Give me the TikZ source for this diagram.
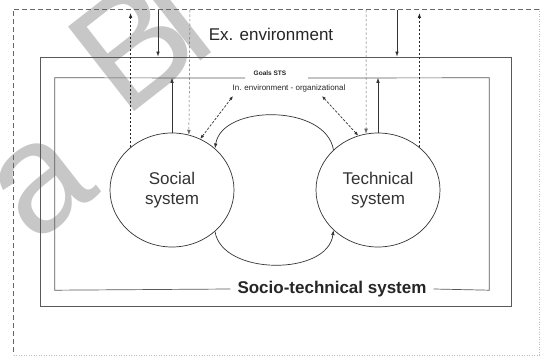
\documentclass[tikz,border=0pt]{standalone}
\usepackage{fontspec}
\setmainfont{Liberation Sans}
\usetikzlibrary{shapes.geometric,arrows.meta}
\begin{document}
\begin{tikzpicture}[x=1pt,y=-1pt,
  frame/.style={draw=black!65, line width=0.7pt},
  subsys/.style={ellipse, draw=black!80, line width=0.7pt,
    minimum width=124pt, minimum height=114pt, inner sep=0pt,
    align=center, font=\fontsize{17}{20}\selectfont, text=black!80},
  tip/.style={-{Latex[length=5pt,width=3.6pt]}},
  flow/.style={tip, draw=black!80, line width=0.7pt},
  feedback/.style={tip, draw=black!85, line width=0.8pt, dash pattern=on 2.5pt off 1.5pt},
  probe/.style={tip, draw=black!60, line width=0.5pt, dash pattern=on 2.5pt off 2pt},
  exchange/.style={{Latex[length=4pt,width=3.2pt]}-{Latex[length=4pt,width=3.2pt]},
    draw=black!80, line width=0.7pt, dash pattern=on 2.5pt off 1.5pt},
  stamp/.style={text=black!22, inner sep=0pt, font=\fontsize{156}{156}\selectfont, rotate=38},
]
\useasboundingbox (0,0) rectangle (541,358);
\fill[white] (0,0) rectangle (541,358);

% background stamp
\node[stamp] (stampa) at (42,186) {a};
\node[stamp, anchor=base west] (stampb) at (124,120) {B};
\node[stamp, anchor=base west] (stampl) at (192,68) {l};

% external environment boundary
\draw[black!60, line width=0.6pt, dash pattern=on 5pt off 3pt] (539,9) -- (13,9) -- (13,355);
\draw[black!25, line width=0.6pt, dash pattern=on 1pt off 1.5pt] (539,9) -- (539,355) -- (13,355);

% system boundary and goals boundary
\node[frame, minimum width=471pt, minimum height=249pt, inner sep=0pt] (env) at (275.5,181.5) {};
\node[minimum width=434pt, minimum height=212pt, inner sep=0pt] (core) at (272,184) {};

% labels
\node[font=\fontsize{17}{20}\selectfont, text=black!85] (ext) at (271,34) {Ex. environment};
\node[font=\fontsize{6.5}{8}\selectfont\bfseries, text=black!85] (goals) at (270,73) {Goals STS};
\node[font=\fontsize{8}{10}\selectfont, text=black!85] (intenv) at (289,88) {In. environment - organizational};
\node[font=\fontsize{17}{20}\selectfont\bfseries, text=black!85, inner xsep=7pt] (sts) at (332,289) {Socio-technical system};

\draw[frame] (245,78) -- (core.north west) -- (core.south west) -- (sts.west);
\draw[frame] (308,78) -- (core.north east) -- (core.south east) -- (sts.east);

% subsystems
\node[subsys] (social) at (172,190) {Social\\system};
\node[subsys] (technical) at (378,190) {Technical\\system};

% reference heights for the vertical flows
\coordinate (ceil) at (0,10);
\coordinate (roof) at (0,13);
\coordinate (in-s) at (158,10);
\coordinate (in-t) at (397,10);
\coordinate (probe-s) at (190,10);
\coordinate (probe-t) at (366,10);
\coordinate (ie-l) at (233,96);
\coordinate (ie-r) at (322,96);

% flows across the boundaries
\draw[feedback] (social.134) -- (social.134 |- roof);
\draw[flow] (in-s) -- (in-s |- env.north);
\draw[flow] (social.north) -- (social.north |- core.north);
\draw[probe] (probe-s) -- (social.73);
\draw[exchange] (social.61) -- (ie-l);

\draw[exchange] (ie-r) -- (technical.110);
\draw[probe] (probe-t) -- (technical.102);
\draw[flow] (technical.north) -- (technical.north |- core.north);
\draw[flow] (in-t) -- (in-t |- env.north);
\draw[feedback] (technical.46) -- (technical.46 |- roof);

% interaction between the subsystems
\draw[flow] (technical.138) .. controls (326,104) and (222,104) .. (social.44);
\draw[flow] (social.-44) .. controls (222,276) and (328,276) .. (technical.222);
\end{tikzpicture}
\end{document}
